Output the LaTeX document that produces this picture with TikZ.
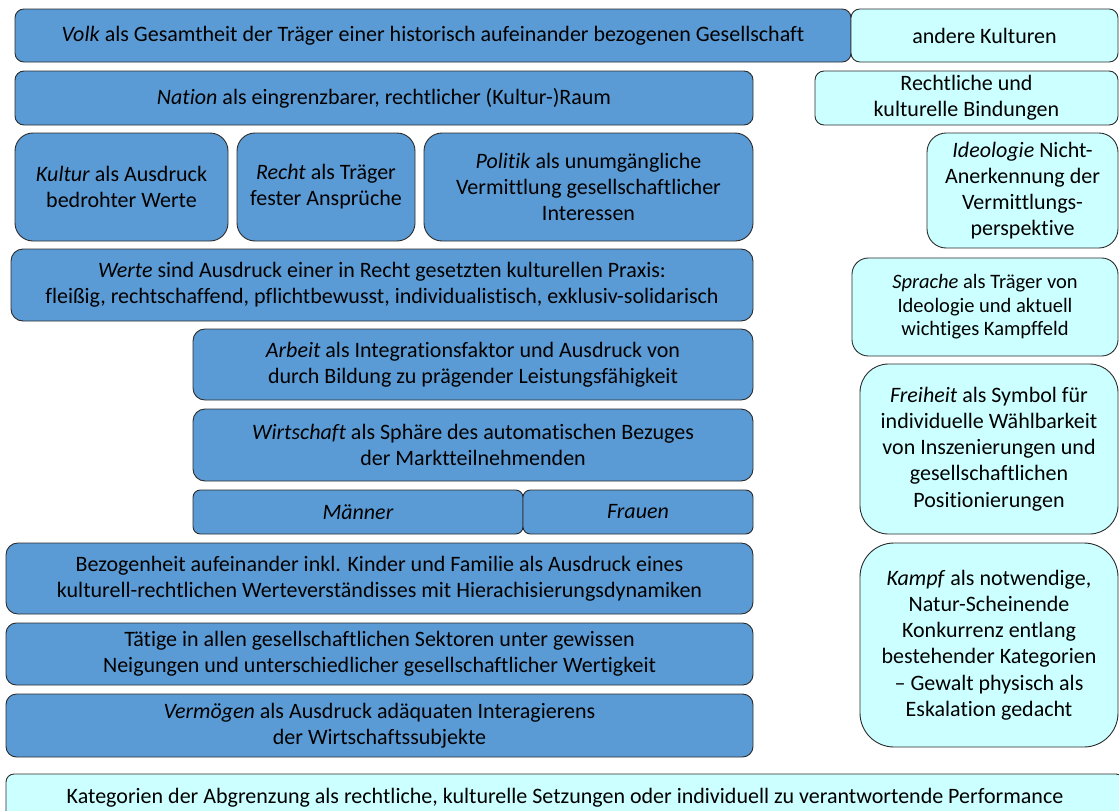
\documentclass[tikz,border=0pt]{standalone}
\usepackage{fontspec}
\setmainfont{Carlito}[Ligatures=NoCommon]
\definecolor{boxblue}{HTML}{5B9BD5}
\definecolor{boxcyan}{HTML}{CCFFFF}
\definecolor{boxline}{HTML}{2B2B2B}
\tikzset{
  basebox/.style={draw=boxline, line width=0.9pt, inner sep=0pt, align=center, text=black,
    font=\fontsize{22}{26.2}\selectfont},
  bluebox/.style={basebox, fill=boxblue},
  cyanbox/.style={basebox, fill=boxcyan},
}
\newcommand\bx[7]{%
  \pgfmathsetmacro\bw{#4-#2}%
  \pgfmathsetmacro\bh{#5-#3}%
  \pgfmathsetmacro\br{min(\bw,\bh)/6}%
  \node[#6, minimum width=\bw pt, minimum height=\bh pt, rounded corners=\br pt]
    (#1) at ({(#2+#4)/2},{(#3+#5)/2}) {#7};}
\begin{document}
\begin{tikzpicture}[x=1pt,y=-1pt]
\useasboundingbox (0,0) rectangle (1119,811);
\clip (0,0) rectangle (1119,811);
\bx{volk}{15}{9}{851}{62}{bluebox}{\textit{Volk} als Gesamtheit der Träger einer historisch aufeinander bezogenen Gesellschaft}
\bx{andere}{851}{9}{1118}{62}{cyanbox}{andere Kulturen}
\bx{nation}{15}{71}{753}{125}{bluebox}{\textit{Nation} als eingrenzbarer, rechtlicher (Kultur-)Raum}
\bx{bind}{815}{71}{1118}{125}{cyanbox}{Rechtliche und\\kulturelle Bindungen}
\bx{kultur}{15}{133}{228}{241}{bluebox}{\textit{Kultur} als Ausdruck\\bedrohter Werte}
\bx{recht}{237}{133}{415}{241}{bluebox}{\textit{Recht} als Träger\\fester Ansprüche}
\bx{politik}{424}{133}{753}{241}{bluebox}{\textit{Politik} als unumgängliche\\Vermittlung gesellschaftlicher\\Interessen}
\bx{ideo}{927}{133}{1118}{248}{cyanbox}{\textit{Ideologie} Nicht-\\Anerkennung der\\Vermittlungs-\\perspektive}
\bx{werte}{11}{249}{753}{321}{bluebox}{\textit{Werte} sind Ausdruck einer in Recht gesetzten kulturellen Praxis:\\fleißig, rechtschaffend, pflichtbewusst, individualistisch, exklusiv-solidarisch}
\bx{sprache}{852}{258}{1118}{356}{cyanbox,font=\fontsize{20.5}{23.5}\selectfont}{\textit{Sprache} als Träger von\\Ideologie und aktuell\\wichtiges Kampffeld}
\bx{arbeit}{193}{329}{753}{400}{bluebox}{\textit{Arbeit} als Integrationsfaktor und Ausdruck von\\durch Bildung zu prägender Leistungsfähigkeit}
\bx{wirt}{193}{409}{753}{481}{bluebox}{\textit{Wirtschaft} als Sphäre des automatischen Bezuges\\der Marktteilnehmenden}
\bx{freiheit}{860}{364}{1118}{534}{cyanbox}{\textit{Freiheit} als Symbol für\\individuelle Wählbarkeit\\von Inszenierungen und\\gesellschaftlichen\\Positionierungen}
\bx{maenner}{193}{490}{523}{534}{bluebox}{\textit{Männer}}
\bx{frauen}{523}{490}{753}{534}{bluebox}{\textit{Frauen}}
\bx{bezog}{6}{543}{753}{614}{bluebox}{Bezogenheit aufeinander inkl. Kinder und Familie als Ausdruck eines\\kulturell-rechtlichen Werteverständisses mit Hierachisierungsdynamiken}
\bx{kampf}{860}{543}{1118}{747}{cyanbox}{\textit{Kampf} als notwendige,\\Natur-Scheinende\\Konkurrenz entlang\\bestehender Kategorien\\– Gewalt physisch als\\Eskalation gedacht}
\bx{taetige}{6}{623}{753}{685}{bluebox}{Tätige in allen gesellschaftlichen Sektoren unter gewissen\\Neigungen und unterschiedlicher gesellschaftlicher Wertigkeit}
\bx{verm}{6}{694}{753}{757}{bluebox}{\textit{Vermögen} als Ausdruck adäquaten Interagierens\\der Wirtschaftssubjekte}
\bx{kat}{6}{774}{1124}{822}{cyanbox}{Kategorien der Abgrenzung als rechtliche, kulturelle Setzungen oder individuell zu verantwortende Performance}
\end{tikzpicture}
\end{document}
